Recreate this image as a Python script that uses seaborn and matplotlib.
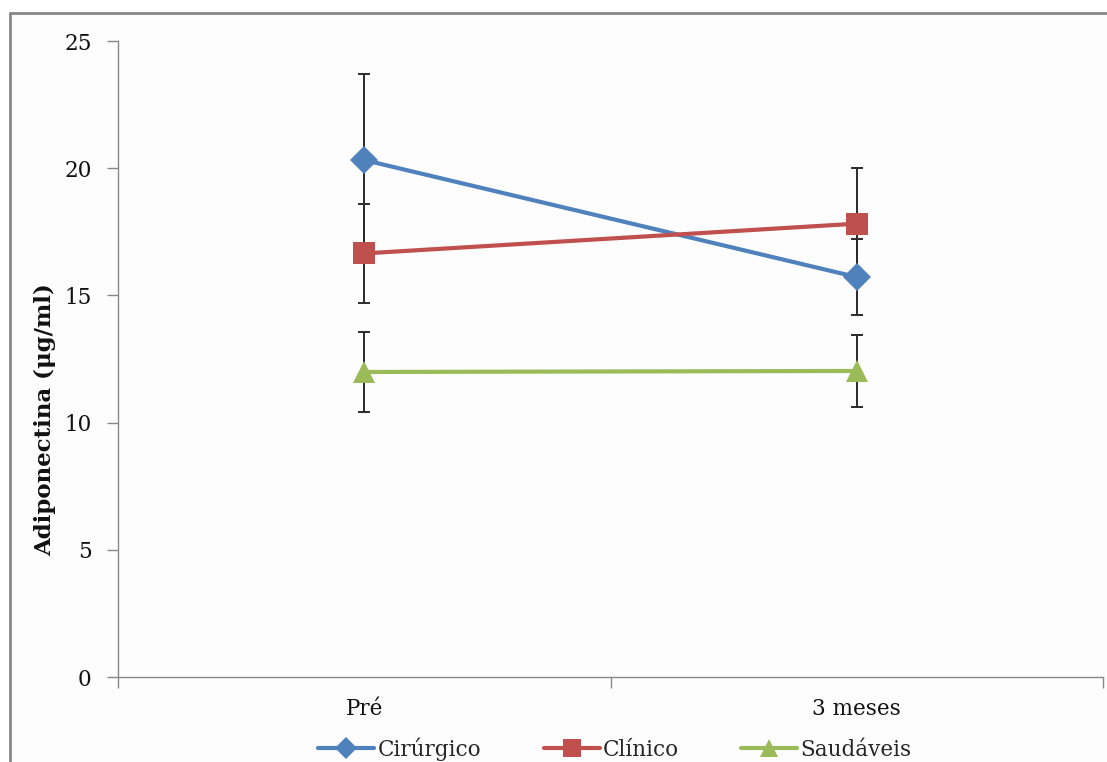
import matplotlib
matplotlib.use("Agg")
import matplotlib.pyplot as plt
import seaborn as sns
import pandas as pd
from matplotlib.lines import Line2D
from matplotlib.patches import Rectangle

categories = ["Pré", "3 meses"]
series_names = ["Cirúrgico", "Clínico", "Saudáveis"]
cirurgico = [20.32, 15.72]
cirurgico_err = [3.38, 1.50]
clinico = [16.65, 17.82]
clinico_err = [1.93, 2.18]
saudaveis = [11.99, 12.03]
saudaveis_err = [1.57, 1.40]
y_ticks = [0, 5, 10, 15, 20, 25]

colors = ["#4F81BD", "#C0504D", "#9BBB59"]
markers = ["D", "s", "^"]
msizes = [14, 16, 15.5]

sns.set_theme(style="white")
plt.rcParams["font.family"] = ["DejaVu Serif"]

values = [cirurgico, clinico, saudaveis]
errs = [cirurgico_err, clinico_err, saudaveis_err]
rows = []
for name, vals in zip(series_names, values):
    for i, v in enumerate(vals):
        rows.append({"pos": i, "Grupo": name, "valor": v})
df = pd.DataFrame(rows)

fig = plt.figure(figsize=(11.07, 7.62), dpi=100)
fig.patch.set_facecolor("white")
fig.add_artist(Rectangle((10/1107, 0), 1, 1-13/762, transform=fig.transFigure,
                         facecolor="#fdfdfd", edgecolor="none", zorder=-10))
ax = fig.add_axes([118/1107, 85/762, (1103-118)/1107, (677-41)/762])
ax.set_facecolor("none")

# error bars
for name, vals, e in zip(series_names, values, errs):
    ax.errorbar(range(len(vals)), vals, yerr=e, fmt="none", ecolor="#2a2a2a",
                elinewidth=1.4, capsize=4.3, capthick=1.4, zorder=2)

n_before = len(ax.get_lines())
sns.lineplot(data=df, x="pos", y="valor", hue="Grupo", palette=colors,
             style="Grupo", markers=markers, dashes=False, linewidth=3,
             markersize=15, markeredgewidth=0, ax=ax, legend=False,
             zorder=3, sort=False)
for line, ms in zip(ax.get_lines()[n_before:], msizes):
    line.set_markersize(ms)

ax.set_xlim(-0.5, 1.5)
ax.set_ylim(0, 25)
ax.set_yticks(y_ticks)
ax.set_yticklabels([str(t) for t in y_ticks])
ax.set_xticks([-0.5, 0.5, 1.5])
ax.set_xticklabels(["", "", ""])
ax.set_xticks([0, 1], minor=True)
ax.set_xticklabels(categories, minor=True)
ax.tick_params(axis="x", which="major", direction="out", length=8, width=1, color="#888888", bottom=True)
ax.tick_params(axis="x", which="minor", length=0, pad=15, labelsize=15.5, labelcolor="#111111")
ax.tick_params(axis="y", direction="out", length=8, width=1, color="#888888", left=True, pad=11,
               labelsize=15.5, labelcolor="#111111")
for s in ["top", "right"]:
    ax.spines[s].set_visible(False)
for s in ["left", "bottom"]:
    ax.spines[s].set_color("#888888")
    ax.spines[s].set_linewidth(1)
ax.set_xlabel("")
ax.set_ylabel("Adiponectina (μg/ml)", fontsize=16.5, fontweight="bold", color="#111111")
ax.yaxis.set_label_coords(-0.0625, 0.405)

handles = [Line2D([0], [0], color=c, marker=m, lw=3, markersize=ms * 0.8, markeredgewidth=0)
           for c, m, ms in zip(colors, markers, msizes)]
fig.legend(handles, series_names, loc="center", bbox_to_anchor=(615/1107, 1-749/762), ncol=3,
           frameon=False, fontsize=15.5, handlelength=2.6, handletextpad=0.15, columnspacing=2.9,
           borderpad=0)

# outer chart border (top and left)
fig.add_artist(Line2D([10/1107, 1], [1-13/762, 1-13/762], color="#888888", lw=2, transform=fig.transFigure))
fig.add_artist(Line2D([10/1107, 10/1107], [0, 1-13/762], color="#888888", lw=2, transform=fig.transFigure))

fig.savefig("out.png", dpi=100, facecolor="white")
